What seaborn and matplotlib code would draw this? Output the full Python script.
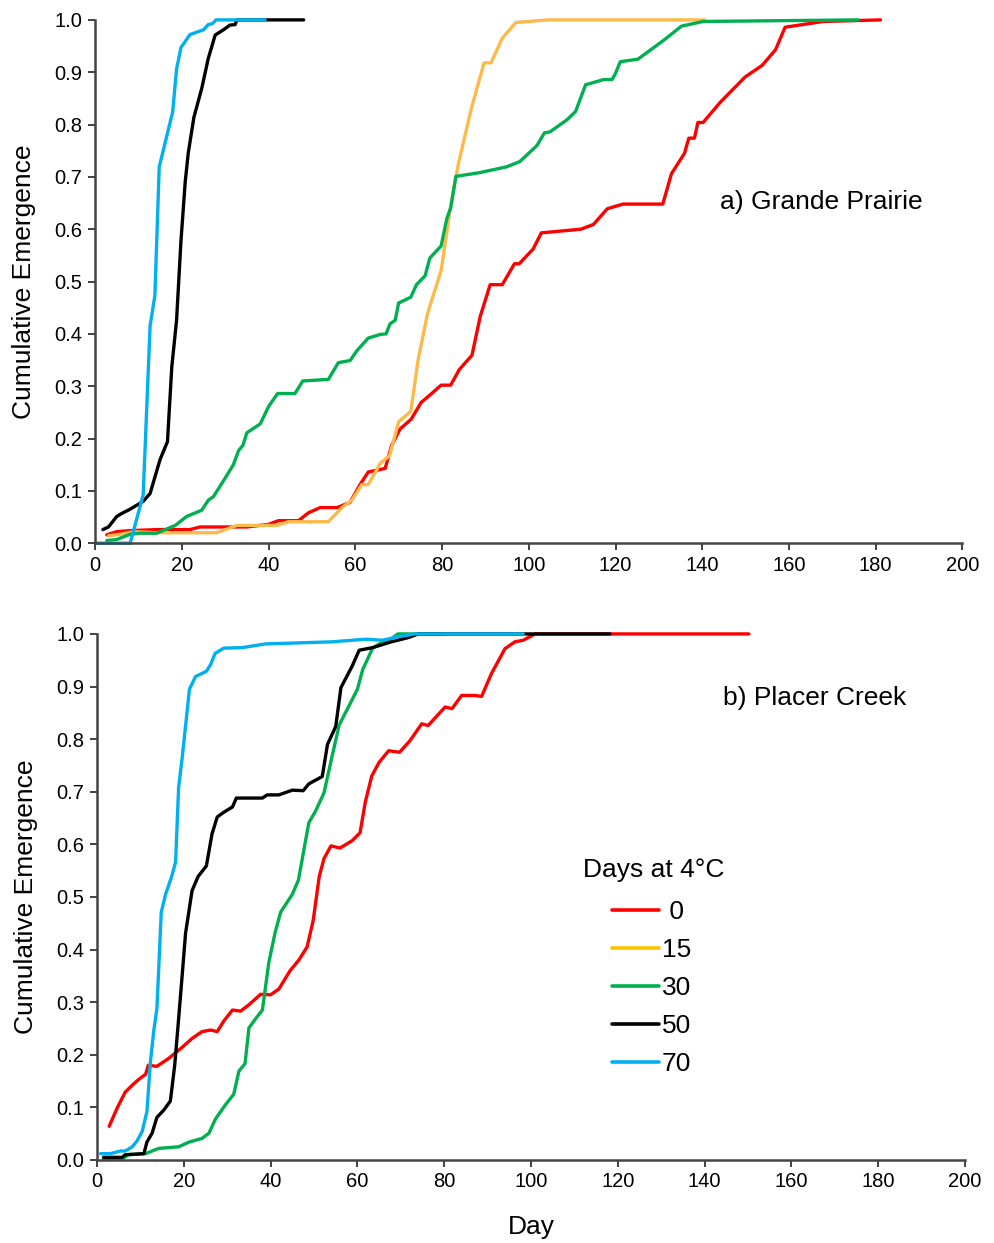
import numpy as np
import pandas as pd
import seaborn as sns
import matplotlib
matplotlib.use("Agg")
import matplotlib.pyplot as plt
from matplotlib.lines import Line2D

# ---------------- data: a) Grande Prairie ----------------
gp_day_0 = [2.7, 5.0, 8.1, 14.2, 21.9, 24.2, 35.0, 40.0, 42.3, 46.9, 49.2, 51.9, 55.8, 58.8, 61.1, 63.0, 66.9,
            68.4, 70.3, 72.9, 75.2, 77.2, 79.8, 82.0, 84.0, 86.9, 88.8, 91.1, 93.9, 96.7, 97.8, 101.0, 102.9,
            112.0, 114.9, 118.1, 121.7, 130.9, 132.9, 135.9, 136.9, 138.2, 139.0, 140.2, 144.2, 149.9, 153.8,
            156.9, 159.1, 167.9, 181.1]
gp_em_0 = [0.016, 0.022, 0.024, 0.026, 0.026, 0.031, 0.031, 0.036, 0.043, 0.043, 0.058, 0.068, 0.068, 0.078,
           0.112, 0.136, 0.143, 0.187, 0.218, 0.237, 0.269, 0.283, 0.302, 0.302, 0.332, 0.359, 0.433, 0.494,
           0.494, 0.534, 0.534, 0.562, 0.593, 0.600, 0.609, 0.639, 0.648, 0.648, 0.706, 0.745, 0.774, 0.774,
           0.804, 0.804, 0.843, 0.891, 0.913, 0.943, 0.986, 0.997, 1.0]

gp_day_15 = [3.1, 5.8, 8.8, 14.2, 28.0, 32.7, 42.0, 44.6, 53.8, 56.9, 59.2, 61.5, 63.0, 65.8, 67.9, 70.0, 72.8,
             74.5, 76.7, 79.8, 82.0, 83.8, 86.9, 89.7, 91.3, 93.9, 97.0, 104.5, 140.6]
gp_em_15 = [0.014, 0.017, 0.022, 0.020, 0.020, 0.034, 0.034, 0.041, 0.041, 0.068, 0.082, 0.112, 0.112, 0.153,
            0.167, 0.232, 0.252, 0.351, 0.440, 0.521, 0.644, 0.726, 0.835, 0.918, 0.918, 0.965, 0.995, 1.0, 1.0]

gp_day_30 = [2.7, 5.0, 8.1, 10.4, 14.2, 18.5, 21.1, 24.6, 26.1, 27.3, 29.6, 31.9, 33.1, 34.1, 35.0, 38.1, 40.0,
             42.1, 46.1, 47.9, 53.8, 56.1, 58.8, 60.4, 63.0, 65.8, 67.1, 68.0, 69.2, 70.0, 72.8, 74.1, 76.1,
             77.2, 79.8, 81.1, 82.0, 83.2, 88.6, 94.8, 97.9, 101.9, 103.6, 104.9, 108.8, 110.8, 113.1, 117.3,
             119.2, 119.9, 121.1, 125.2, 131.1, 135.2, 140.2, 175.9]
gp_em_30 = [0.005, 0.007, 0.017, 0.019, 0.019, 0.034, 0.051, 0.063, 0.082, 0.089, 0.119, 0.150, 0.177, 0.187,
            0.211, 0.228, 0.261, 0.286, 0.286, 0.310, 0.313, 0.345, 0.349, 0.368, 0.392, 0.399, 0.400, 0.419,
            0.426, 0.459, 0.470, 0.494, 0.511, 0.545, 0.568, 0.620, 0.641, 0.701, 0.708, 0.719, 0.729, 0.760,
            0.784, 0.786, 0.809, 0.825, 0.876, 0.886, 0.886, 0.896, 0.920, 0.925, 0.961, 0.988, 0.997, 1.0]

gp_day_50 = [1.8, 3.1, 5.0, 6.2, 8.1, 11.1, 12.7, 15.0, 16.7, 17.7, 18.8, 19.8, 20.8, 21.5, 22.8, 24.6, 26.1,
             27.7, 29.6, 31.1, 32.3, 32.7, 48.1]
gp_em_50 = [0.026, 0.031, 0.051, 0.057, 0.065, 0.080, 0.095, 0.160, 0.194, 0.337, 0.426, 0.576, 0.691, 0.746,
            0.814, 0.869, 0.926, 0.971, 0.981, 0.990, 0.991, 1.0, 1.0]

gp_day_70 = [0.4, 8.1, 11.1, 12.7, 13.8, 14.8, 17.9, 18.8, 19.8, 21.9, 25.0, 26.1, 27.1, 27.9, 39.2]
gp_em_70 = [0.0, 0.0, 0.092, 0.416, 0.473, 0.719, 0.824, 0.906, 0.947, 0.972, 0.981, 0.991, 0.993, 1.0, 1.0]

# ---------------- data: b) Placer Creek ----------------
pc_day_0 = [2.8, 4.6, 6.5, 8.1, 9.6, 11.2, 11.8, 13.8, 16.5, 19.6, 21.9, 24.2, 26.2, 27.7, 29.2, 31.2, 33.1,
            35.0, 37.7, 40.0, 41.9, 44.5, 46.5, 48.4, 49.8, 51.2, 52.3, 53.9, 56.0, 58.8, 60.6, 61.8, 63.3,
            65.0, 67.2, 69.7, 72.1, 74.8, 76.3, 80.2, 81.8, 84.0, 87.1, 88.6, 90.9, 94.0, 96.3, 98.2, 100.9,
            150.2]
pc_em_0 = [0.064, 0.098, 0.129, 0.142, 0.153, 0.163, 0.180, 0.178, 0.193, 0.214, 0.231, 0.244, 0.247, 0.244,
           0.264, 0.285, 0.283, 0.295, 0.315, 0.314, 0.325, 0.360, 0.380, 0.405, 0.455, 0.539, 0.573, 0.597,
           0.593, 0.607, 0.622, 0.680, 0.730, 0.756, 0.778, 0.775, 0.797, 0.829, 0.826, 0.861, 0.858, 0.883,
           0.883, 0.881, 0.925, 0.972, 0.985, 0.988, 1.0, 1.0]

pc_day_30 = [1.5, 5.8, 7.3, 11.2, 14.2, 18.8, 21.2, 24.2, 25.8, 27.3, 29.6, 31.5, 32.7, 34.1, 35.0, 36.5, 38.1,
             39.6, 41.0, 42.3, 45.0, 46.4, 48.8, 50.4, 52.3, 54.2, 55.8, 58.1, 60.0, 61.2, 63.5, 65.8, 67.7,
             69.3, 80.0]
pc_em_30 = [0.002, 0.002, 0.010, 0.012, 0.022, 0.025, 0.034, 0.041, 0.051, 0.078, 0.105, 0.125, 0.169, 0.183,
            0.251, 0.268, 0.285, 0.376, 0.431, 0.471, 0.505, 0.532, 0.641, 0.664, 0.698, 0.769, 0.827, 0.864,
            0.895, 0.932, 0.973, 0.985, 0.990, 1.0, 1.0]

pc_day_50 = [1.5, 5.8, 6.5, 10.8, 11.5, 12.7, 13.8, 15.4, 16.9, 17.9, 18.8, 19.6, 20.4, 21.9, 23.3, 25.2, 26.5,
             27.7, 29.2, 31.2, 32.1, 38.1, 39.2, 41.9, 45.0, 47.5, 48.8, 51.9, 53.1, 55.0, 56.2, 58.8, 60.4,
             63.5, 67.8, 71.7, 74.0, 118.2]
pc_em_50 = [0.005, 0.005, 0.010, 0.012, 0.034, 0.051, 0.081, 0.095, 0.112, 0.180, 0.268, 0.349, 0.431, 0.512,
            0.539, 0.559, 0.620, 0.652, 0.661, 0.671, 0.688, 0.688, 0.694, 0.694, 0.703, 0.702, 0.715, 0.729,
            0.790, 0.824, 0.898, 0.939, 0.969, 0.974, 0.985, 0.993, 1.0, 1.0]

pc_day_70 = [0.8, 3.1, 5.4, 6.5, 8.1, 9.2, 10.4, 11.5, 12.3, 13.1, 13.8, 14.8, 15.8, 17.2, 18.1, 18.8, 19.6,
             21.3, 22.7, 25.2, 26.2, 27.2, 29.2, 33.5, 38.8, 54.2, 61.9, 65.8, 69.6, 73.2, 98.2]
pc_em_70 = [0.012, 0.012, 0.017, 0.017, 0.025, 0.036, 0.054, 0.092, 0.186, 0.247, 0.288, 0.471, 0.505, 0.539,
            0.566, 0.708, 0.763, 0.895, 0.919, 0.929, 0.942, 0.963, 0.973, 0.974, 0.981, 0.985, 0.990, 0.988,
            0.995, 1.0, 1.0]

treatments = ["0", "15", "30", "50", "70"]
legend_labels = [" 0", "15", "30", "50", "70"]
colors = ["#FF0000", "#FDB94A", "#00B050", "#000000", "#00B0F0"]
legend_colors = ["#FF0000", "#FFC000", "#00B050", "#000000", "#00B0F0"]
x_ticks = [0, 20, 40, 60, 80, 100, 120, 140, 160, 180, 200]
y_ticks = [0.0, 0.1, 0.2, 0.3, 0.4, 0.5, 0.6, 0.7, 0.8, 0.9, 1.0]


def frame(series):
    parts = []
    for t, (d, e) in series.items():
        parts.append(pd.DataFrame({"Day": d, "Emergence": e, "Treatment": t}))
    return pd.concat(parts, ignore_index=True)


df_gp = frame({"0": (gp_day_0, gp_em_0), "15": (gp_day_15, gp_em_15), "30": (gp_day_30, gp_em_30),
               "50": (gp_day_50, gp_em_50), "70": (gp_day_70, gp_em_70)})
df_pc = frame({"0": (pc_day_0, pc_em_0), "30": (pc_day_30, pc_em_30),
               "50": (pc_day_50, pc_em_50), "70": (pc_day_70, pc_em_70)})

sns.set_style("white")
plt.rcParams["font.family"] = ["Liberation Sans", "DejaVu Sans"]
plt.rcParams["text.color"] = "black"
plt.rcParams["axes.labelcolor"] = "black"
plt.rcParams["xtick.color"] = "black"
plt.rcParams["ytick.color"] = "black"

fig = plt.figure(figsize=(9.94, 12.43), dpi=100)
ax1 = fig.add_axes([0.0956, 0.563, 0.8727, 0.421])
ax2 = fig.add_axes([0.0976, 0.0668, 0.8733, 0.4232])

pal = dict(zip(treatments, colors))

for ax, df in [(ax1, df_gp), (ax2, df_pc)]:
    order = [t for t in treatments if t in set(df["Treatment"])]
    sns.lineplot(data=df, x="Day", y="Emergence", hue="Treatment", hue_order=order,
                 palette=pal, estimator=None, sort=False, linewidth=2.4, legend=False, ax=ax)
    ax.set_xlim(0, 200)
    ax.set_ylim(0, 1.0)
    ax.set_xticks(x_ticks)
    ax.set_yticks(y_ticks)
    ax.set_yticklabels([f"{v:.1f}" for v in y_ticks])
    ax.tick_params(axis="both", which="major", labelsize=14.5, direction="out", length=5,
                   width=1.3, color="#333333", labelcolor="black", left=True, bottom=True, pad=4)
    for s in ["top", "right"]:
        ax.spines[s].set_visible(False)
    for s in ["left", "bottom"]:
        ax.spines[s].set_color("#444444")
        ax.spines[s].set_linewidth(1.8)
    ax.set_ylabel("Cumulative Emergence", fontsize=19, labelpad=13, color="black")
    ax.set_xlabel("")
    for ln in ax.lines:
        ln.set_clip_on(False)

ax2.set_xlabel("Day", fontsize=19, labelpad=17, color="black")

ax1.text(144.2, 0.652, "a) Grande Prairie", fontsize=19, va="center", ha="left", color="black")
ax2.text(144.2, 0.878, "b) Placer Creek", fontsize=19, va="center", ha="left", color="black")

ax2.text(0.560, 0.551, "Days at 4°C", transform=ax2.transAxes, fontsize=19, va="center", ha="left",
         color="black")
handles = [Line2D([0], [0], color=c, lw=2.6) for c in legend_colors]
leg = ax2.legend(handles, legend_labels, loc="upper left", bbox_to_anchor=(0.593, 0.494),
                 frameon=False, fontsize=19, borderpad=0, borderaxespad=0,
                 handlelength=1.8, handletextpad=0.1, labelspacing=0.53)
for t in leg.get_texts():
    t.set_color("black")

fig.savefig("out.png", dpi=100, facecolor="white")
